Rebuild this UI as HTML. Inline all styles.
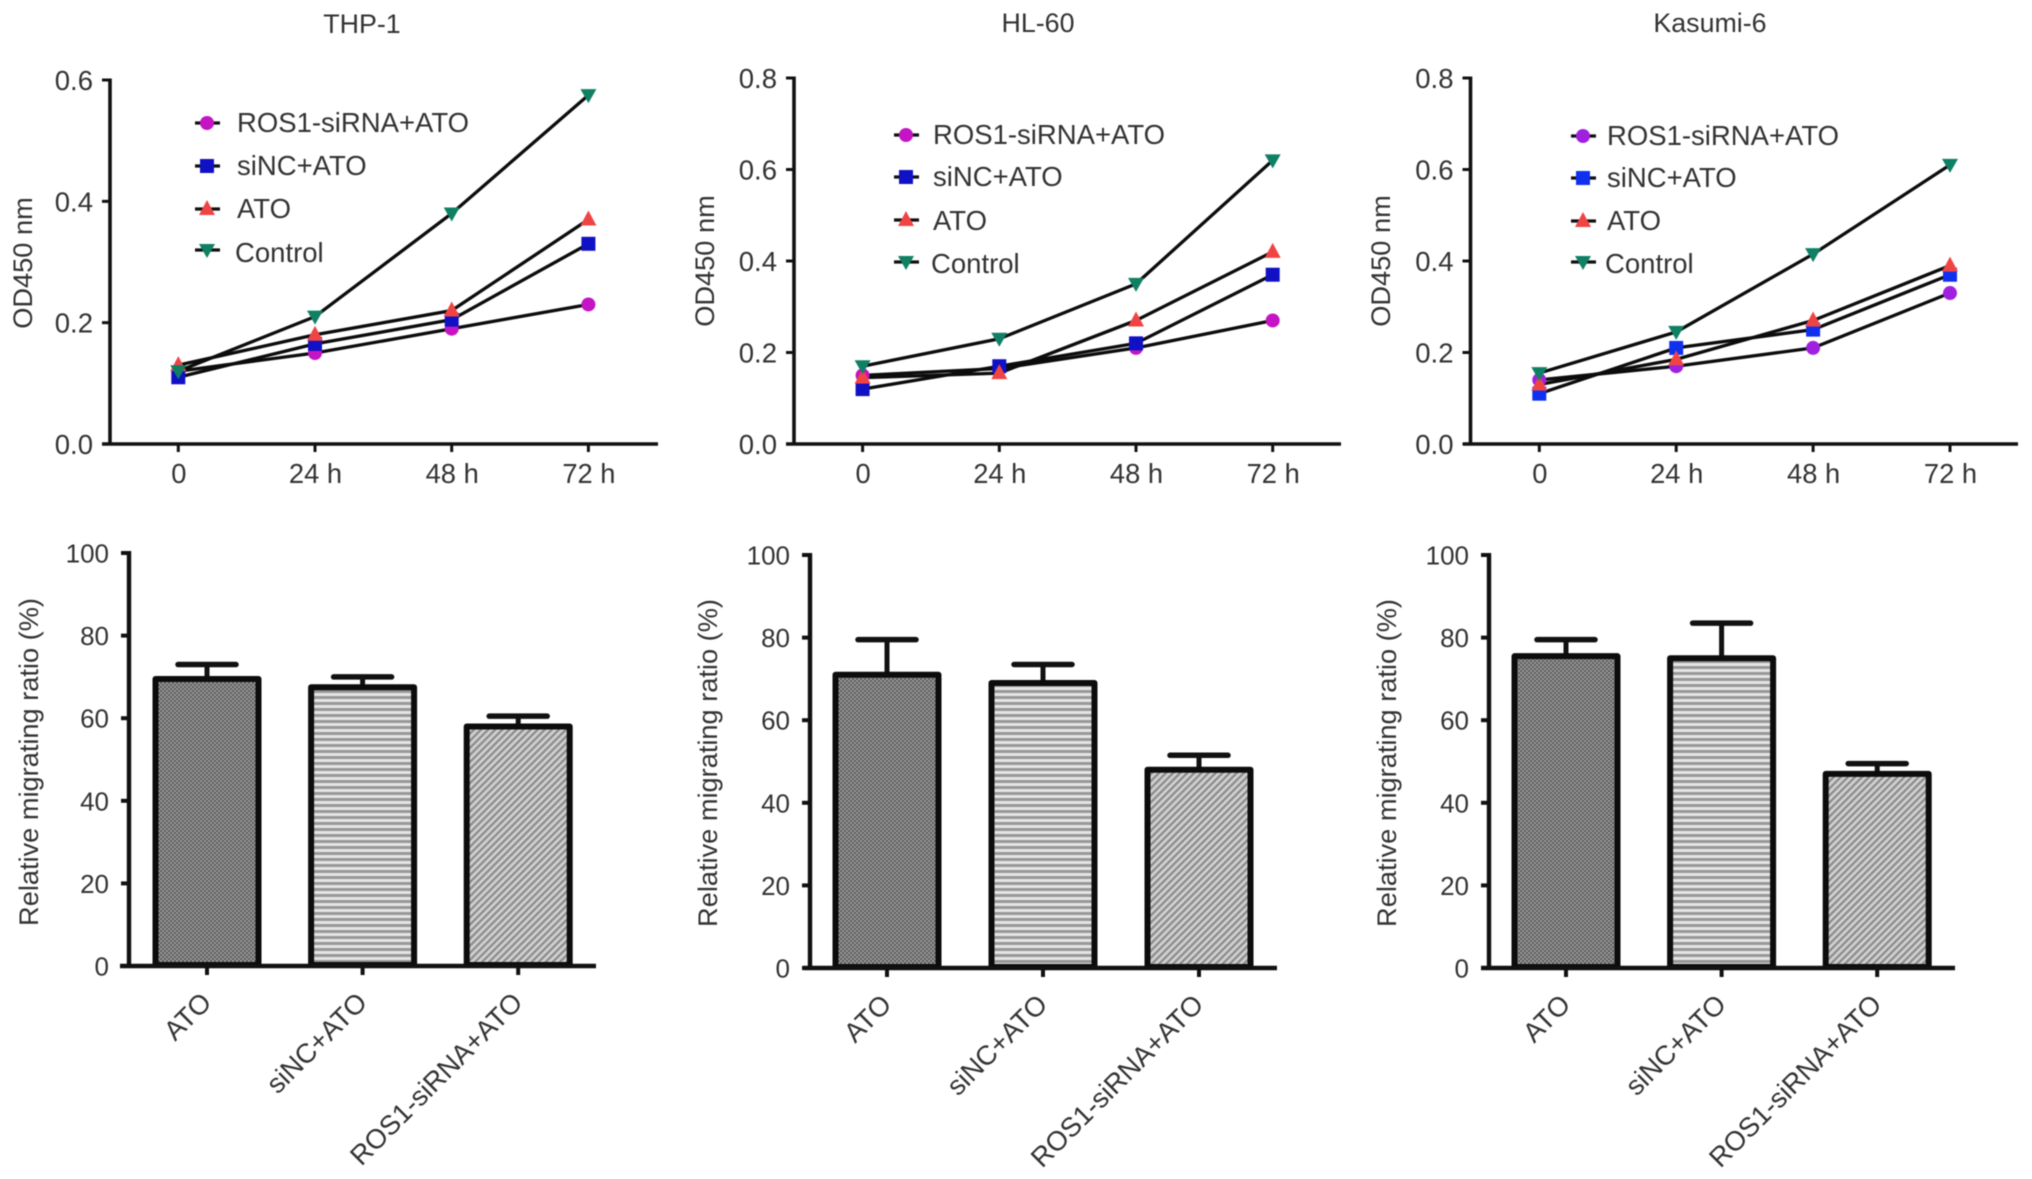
<!DOCTYPE html>
<html lang="en">
<head>
<meta charset="utf-8">
<title>Cell viability and migration panels</title>
<style>
html,body{margin:0;padding:0;background:#fff;width:2032px;height:1179px;overflow:hidden}
svg{display:block;filter:blur(0.6px)}
text{font-family:"Liberation Sans",sans-serif;fill:#333}
</style>
</head>
<body>
<svg id="figure" xmlns="http://www.w3.org/2000/svg" width="2032" height="1179" viewBox="0 0 2032 1179">
<defs>
<pattern id="fill-check" width="4" height="4" patternUnits="userSpaceOnUse"><rect width="4" height="4" fill="#5a5a5a"/><rect width="2" height="2" fill="#9c9c9c"/><rect x="2" y="2" width="2" height="2" fill="#9c9c9c"/></pattern>
<pattern id="fill-stripe" width="6" height="6" patternUnits="userSpaceOnUse"><rect width="6" height="6" fill="#e4e4e4"/><rect y="0" width="6" height="3" fill="#989898"/></pattern>
<pattern id="fill-hatch" width="5" height="5" patternUnits="userSpaceOnUse" patternTransform="rotate(-45)"><rect width="5" height="5" fill="#d0d0d0"/><rect width="5" height="2.2" fill="#8a8a8a"/></pattern>
</defs>
<rect width="2032" height="1179" fill="#fff"/>

<g font-size="26.8" text-anchor="middle">
<text x="362" y="33">THP-1</text>
<text x="1038" y="32">HL-60</text>
<text x="1710" y="32">Kasumi-6</text>
</g>

<g font-size="27.2" text-anchor="middle">
<text transform="translate(32,263) rotate(-90)">OD450 nm</text>
<text transform="translate(714,261) rotate(-90)">OD450 nm</text>
<text transform="translate(1390,261) rotate(-90)">OD450 nm</text>
</g>

<g font-size="27.2" text-anchor="middle">
<text transform="translate(38,762) rotate(-90)">Relative migrating ratio (%)</text>
<text transform="translate(717,763) rotate(-90)">Relative migrating ratio (%)</text>
<text transform="translate(1396,763) rotate(-90)">Relative migrating ratio (%)</text>
</g>

<g font-size="27.5">
<text x="237" y="132">ROS1-siRNA+ATO</text>
<text x="237" y="175">siNC+ATO</text>
<text x="237" y="218">ATO</text>
<text x="235" y="262">Control</text>
<text x="933" y="144">ROS1-siRNA+ATO</text>
<text x="933" y="186">siNC+ATO</text>
<text x="933" y="230">ATO</text>
<text x="931" y="273">Control</text>
<text x="1607" y="145">ROS1-siRNA+ATO</text>
<text x="1607" y="187">siNC+ATO</text>
<text x="1607" y="230">ATO</text>
<text x="1605" y="273">Control</text>
</g>
<g id="plots"></g>
</svg>

<script>
const timeLabels = ['0', '24 h', '48 h', '72 h'];
const barLabels = ['ATO', 'siNC+ATO', 'ROS1-siRNA+ATO'];
const thpTicks = ['0.0', '0.2', '0.4', '0.6'];
const odTicks = ['0.0', '0.2', '0.4', '0.6', '0.8'];
const barTicks = ['0', '20', '40', '60', '80', '100'];

const thpRos1 = [0.12, 0.15, 0.19, 0.23];
const thpSinc = [0.11, 0.165, 0.205, 0.33];
const thpAto = [0.13, 0.18, 0.22, 0.37];
const thpControl = [0.12, 0.21, 0.38, 0.575];

const hlRos1 = [0.15, 0.165, 0.21, 0.27];
const hlSinc = [0.12, 0.17, 0.22, 0.37];
const hlAto = [0.145, 0.155, 0.27, 0.42];
const hlControl = [0.17, 0.23, 0.35, 0.62];

const kasRos1 = [0.14, 0.17, 0.21, 0.33];
const kasSinc = [0.11, 0.21, 0.25, 0.37];
const kasAto = [0.13, 0.185, 0.27, 0.39];
const kasControl = [0.155, 0.245, 0.415, 0.61];

const thpBars = [69.5, 67.5, 58];
const thpErrors = [73, 70, 60.5];
const hlBars = [71, 69, 48];
const hlErrors = [79.5, 73.5, 51.5];
const kasBars = [75.5, 75, 47];
const kasErrors = [79.5, 83.5, 49.5];

const NS = 'http://www.w3.org/2000/svg';
const root = document.getElementById('plots');

function make(tag, attrs, parent) {
  const el = document.createElementNS(NS, tag);
  for (const k in attrs) el.setAttribute(k, attrs[k]);
  parent.appendChild(el);
  return el;
}

function seg(parent, x1, y1, x2, y2, w, name) {
  const el = make('line', {x1: x1, y1: y1, x2: x2, y2: y2, stroke: '#111', 'stroke-width': w}, parent);
  
  
  return el;
}

function marker(parent, kind, cx, cy, color, name) {
  let el;
  if (kind === 'circle') {
    el = make('circle', {cx: cx, cy: cy, r: 7, fill: color}, parent);
  } else if (kind === 'square') {
    el = make('rect', {x: cx - 7, y: cy - 7, width: 14, height: 14, fill: color}, parent);
  } else if (kind === 'up') {
    el = make('polygon', {points: (cx) + ',' + (cy - 9) + ' ' + (cx + 8) + ',' + (cy + 6) + ' ' + (cx - 8) + ',' + (cy + 6), fill: color}, parent);
  } else {
    el = make('polygon', {points: (cx) + ',' + (cy + 8) + ' ' + (cx + 8) + ',' + (cy - 6) + ' ' + (cx - 8) + ',' + (cy - 6), fill: color}, parent);
  }
  
  
  return el;
}

function drawLineChart(cfg) {
  const g = make('g', {}, root);
  
  
  const maxV = Number(cfg.ticks[cfg.ticks.length - 1]);
  const yScale = v => cfg.y0 - (v / maxV) * (cfg.y0 - cfg.yTop);
  const xScale = i => cfg.x0 + i * cfg.dx;

  seg(g, cfg.axisX, cfg.yTop - 1.5, cfg.axisX, cfg.y0 + 1.5, 3.6, 'y-axis-' + cfg.id);
  seg(g, cfg.axisLeft, cfg.y0, cfg.axisRight, cfg.y0, 3.4, 'x-axis-' + cfg.id);

  cfg.ticks.forEach(t => {
    const y = yScale(Number(t));
    seg(g, cfg.axisX - 8, y, cfg.axisX, y, 3, 'y-tick-' + cfg.id + '-' + t);
    const label = make('text', {x: cfg.axisX - 17, y: y + 10, 'font-size': 27.5, 'text-anchor': 'end'}, g);
    
    
    label.textContent = t;
  });

  timeLabels.forEach((t, i) => {
    seg(g, xScale(i), cfg.y0, xScale(i), cfg.y0 + 8, 3, 'x-tick-' + cfg.id + '-' + i);
    const label = make('text', {x: xScale(i) + 0.5, y: 483, 'font-size': 27.3, 'text-anchor': 'middle'}, g);
    
    
    label.textContent = t;
  });

  cfg.series.forEach(s => {
    const pts = s.values.map((v, i) => xScale(i) + ',' + yScale(v)).join(' ');
    const line = make('polyline', {points: pts, fill: 'none', stroke: '#0c0c0c', 'stroke-width': 3.3}, g);
    
    
  });
  cfg.series.forEach(s => {
    s.values.forEach((v, i) => {
      marker(g, s.kind, xScale(i), yScale(v), s.color, 'point-' + cfg.id + '-' + s.key + '-' + i);
    });
  });

  cfg.series.forEach((s, i) => {
    const ly = cfg.legendY[i];
    seg(g, cfg.legendX - 12, ly, cfg.legendX + 13, ly, 3.3, 'legend-line-' + cfg.id + '-' + s.key);
    marker(g, s.kind, cfg.legendX, ly, s.color, 'legend-marker-' + cfg.id + '-' + s.key);
  });
}

function drawBarChart(cfg) {
  const g = make('g', {}, root);
  
  
  const yScale = v => cfg.y0 - (v / 100) * (cfg.y0 - cfg.yTop);
  const xScale = i => cfg.x0 + i * cfg.dx;
  const fills = ['url(#fill-check)', 'url(#fill-stripe)', 'url(#fill-hatch)'];
  const halfBar = 51.5;
  const halfCap = 29;

  cfg.values.forEach((v, i) => {
    const cx = xScale(i);
    seg(g, cx, yScale(cfg.errors[i]), cx, yScale(v), 5, 'error-stem-' + cfg.id + '-' + i);
    const cap = seg(g, cx - halfCap, yScale(cfg.errors[i]), cx + halfCap, yScale(cfg.errors[i]), 5.5, 'error-cap-' + cfg.id + '-' + i);
    cap.setAttribute('stroke-linecap', 'round');
    const bar = make('rect', {x: cx - halfBar, y: yScale(v), width: halfBar * 2, height: cfg.y0 - yScale(v) - 1, fill: fills[i], stroke: '#0c0c0c', 'stroke-width': 6, 'stroke-linejoin': 'round'}, g);
    
    
  });

  seg(g, cfg.axisX, cfg.yTop - 2, cfg.axisX, cfg.y0 + 2, 4.4, 'y-axis-migration-' + cfg.id);
  seg(g, cfg.axisLeft, cfg.y0, cfg.axisRight, cfg.y0, 4.4, 'x-axis-migration-' + cfg.id);

  barTicks.forEach(t => {
    const y = yScale(Number(t));
    seg(g, cfg.axisX - 8, y, cfg.axisX, y, 4, 'y-tick-migration-' + cfg.id + '-' + t);
    const label = make('text', {x: cfg.axisX - 20, y: y + 9.5, 'font-size': 26, 'text-anchor': 'end'}, g);
    
    
    label.textContent = t;
  });

  barLabels.forEach((t, i) => {
    const cx = xScale(i);
    seg(g, cx, cfg.y0, cx, cfg.y0 + 9, 4, 'x-tick-migration-' + cfg.id + '-' + i);
    const ax = cx + 6;
    const ay = cfg.y0 + 38;
    const label = make('text', {x: ax, y: ay, 'font-size': 27.3, 'text-anchor': 'end', transform: 'rotate(-45 ' + ax + ' ' + ay + ')'}, g);
    
    
    label.textContent = t;
  });
}

drawLineChart({
  id: 'thp1', ticks: thpTicks, x0: 178.3, dx: 136.7, y0: 444, yTop: 80,
  axisX: 110, axisLeft: 102, axisRight: 658, legendX: 207, legendY: [123, 166, 209, 250],
  series: [
    {key: 'ros1', kind: 'circle', color: '#c414c4', values: thpRos1},
    {key: 'sinc', kind: 'square', color: '#1010c4', values: thpSinc},
    {key: 'ato', kind: 'up', color: '#f04444', values: thpAto},
    {key: 'control', kind: 'down', color: '#108064', values: thpControl}
  ]
});
drawLineChart({
  id: 'hl60', ticks: odTicks, x0: 862.6, dx: 136.7, y0: 444, yTop: 78,
  axisX: 794, axisLeft: 786, axisRight: 1341, legendX: 906, legendY: [135, 177, 220, 262],
  series: [
    {key: 'ros1', kind: 'circle', color: '#c414c4', values: hlRos1},
    {key: 'sinc', kind: 'square', color: '#1010c4', values: hlSinc},
    {key: 'ato', kind: 'up', color: '#f04444', values: hlAto},
    {key: 'control', kind: 'down', color: '#108064', values: hlControl}
  ]
});
drawLineChart({
  id: 'kasumi6', ticks: odTicks, x0: 1539.3, dx: 136.9, y0: 444, yTop: 78,
  axisX: 1470.5, axisLeft: 1463, axisRight: 2018, legendX: 1583, legendY: [136, 178, 221, 262],
  series: [
    {key: 'ros1', kind: 'circle', color: '#a020e0', values: kasRos1},
    {key: 'sinc', kind: 'square', color: '#1030f0', values: kasSinc},
    {key: 'ato', kind: 'up', color: '#f04444', values: kasAto},
    {key: 'control', kind: 'down', color: '#108064', values: kasControl}
  ]
});

drawBarChart({id: 'thp1', values: thpBars, errors: thpErrors, x0: 207, dx: 155.6, y0: 966, yTop: 553, axisX: 129, axisLeft: 120, axisRight: 596});
drawBarChart({id: 'hl60', values: hlBars, errors: hlErrors, x0: 887, dx: 156, y0: 968, yTop: 555, axisX: 810, axisLeft: 803, axisRight: 1277});
drawBarChart({id: 'kasumi6', values: kasBars, errors: kasErrors, x0: 1566, dx: 155.6, y0: 968, yTop: 555, axisX: 1489, axisLeft: 1481, axisRight: 1955});
</script>
</body>
</html>
